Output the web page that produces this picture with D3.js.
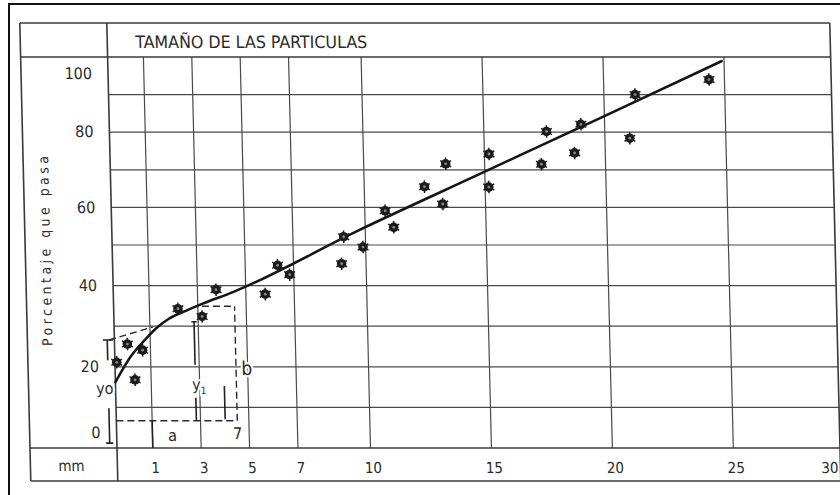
<!DOCTYPE html>
<html>
<head>
<meta charset="utf-8">
<script src="https://cdnjs.cloudflare.com/ajax/libs/d3/7.8.5/d3.min.js"></script>
<style>
  html, body { margin: 0; padding: 0; background: #fff; }
  svg { display: block; }
  text { font-family: "DejaVu Sans Condensed", "DejaVu Sans", sans-serif; fill: #2b2b2b; }
</style>
</head>
<body>
<svg id="chart" width="840" height="495"></svg>
<script>
// particle size (mm) and percent passing
const sizeMm = [0.05, 0.36, 0.78, 0.55, 2.18, 3.17, 3.77, 5.8, 6.34, 6.83, 8.99, 9.1, 9.89, 10.84,
  11.18, 12.49, 13.23, 13.39, 15.19, 15.15, 17.35, 17.59, 18.73, 19.02, 21.03, 21.29, 24.36];
const pctPass = [21.1, 25.6, 24.1, 16.8, 34.3, 32.4, 39.0, 37.9, 45.0, 42.7, 45.4, 52.2, 49.5, 59.1,
  54.7, 65.5, 60.9, 71.6, 74.2, 65.4, 71.5, 80.2, 74.5, 82.1, 78.4, 90.0, 94.0];

// hand drawn fit
const curveMm = [0, 0.46, 0.88, 1.26, 1.81, 2.5, 3.18, 4.47, 9.66, 15, 20, 24.9];
const curvePct = [16.2, 22.7, 26.9, 29.5, 31.9, 33.8, 35.5, 38.4, 53.7, 69.5, 84.3, 98.9];

const xTicks = [1, 3, 5, 7, 10, 15, 20, 25, 30];
const yTicks = [0, 20, 40, 60, 80, 100];
const yGrid = [10, 20, 30, 40, 50, 60, 70, 80, 90];

// construction marks for yo, y1, a, b  ([x1, y1, x2, y2] in mm / %)
const dashedGuides = [
  [-0.15, 26.6, 1.12, 29.8],
  [0, 6.7, 4.52, 6.7],
  [4.52, 6.7, 4.52, 34.9],
  [3.17, 34.9, 4.52, 34.9]
];
const solidGuides = [
  [-0.2, 26.6, -0.2, 21.6],
  [-0.2, 9.8, -0.2, 1.2],
  [-0.32, 26.6, -0.04, 26.6],
  [-0.3, 1.2, -0.1, 1.2],
  [2.83, 31.1, 2.83, 20.5],
  [2.83, 12.4, 2.83, 6.7],
  [2.72, 31.1, 2.94, 31.1],
  [4.02, 15.3, 4.02, 7.1],
  [1, 6.7, 1, 0]
];
const guideText = ['yo', 'y', 'a', 'b', '7'];
const guideMm = [-0.06, 2.98, 1.83, 4.96, 4.52];
const guidePct = [14.7, 15.6, 3.1, 19.7, 3.6];

const svg = d3.select('#chart');

// border of the scanned page
svg.append('path')
  .attr('d', 'M9,495V4H840')
  .attr('fill', 'none')
  .attr('stroke', '#111')
  .attr('stroke-width', 2);

const frame = { left: 30, right: 840, top: 23, bottom: 481 };

const x = d3.scaleLinear().domain([0, 1, 25, 30]).range([117, 152.8, 733.3, 827]);
const y = d3.scaleLinear().domain([0, 50, 100]).range([448, 245, 57]);

// the sheet was scanned a little sheared
const skew = 0.024;
const g = svg.append('g')
  .attr('transform', `translate(${-skew * y(0)},0) skewX(${Math.atan(skew) * 180 / Math.PI})`);

const ink = '#3a3a3a';

// grid
g.append('g')
  .selectAll('line')
  .data(yGrid)
  .enter()
  .append('line')
  .attr('x1', x(0))
  .attr('x2', frame.right)
  .attr('y1', d => y(d))
  .attr('y2', d => y(d))
  .attr('stroke', '#4a4a4a')
  .attr('stroke-width', 1.2);

g.append('g')
  .selectAll('line')
  .data(xTicks.filter(d => d < 30))
  .enter()
  .append('line')
  .attr('x1', d => x(d))
  .attr('x2', d => x(d))
  .attr('y1', y(100))
  .attr('y2', y(0))
  .attr('stroke', '#4a4a4a')
  .attr('stroke-width', 1.2);

// table frame
const frameLines = [
  [frame.left, frame.top, frame.right, frame.top],
  [frame.left, frame.bottom, frame.right, frame.bottom],
  [frame.left, frame.top, frame.left, frame.bottom],
  [frame.right, frame.top, frame.right, frame.bottom],
  [x(0), frame.top, x(0), frame.bottom],
  [frame.left, y(100), frame.right, y(100)],
  [frame.left, y(0), frame.right, y(0)]
];
g.append('g')
  .selectAll('line')
  .data(frameLines)
  .enter()
  .append('line')
  .attr('x1', d => d[0])
  .attr('y1', d => d[1])
  .attr('x2', d => d[2])
  .attr('y2', d => d[3])
  .attr('stroke', ink)
  .attr('stroke-width', 1.6);

// title and labels
g.append('text')
  .attr('x', x(0) + 28)
  .attr('y', (frame.top + y(100)) / 2 + 2)
  .attr('dominant-baseline', 'central')
  .attr('font-size', 17)
  .attr('textLength', 232)
  .attr('lengthAdjust', 'spacingAndGlyphs')
  .text('TAMAÑO DE LAS PARTICULAS');

g.append('text')
  .attr('transform', `translate(50,${y(50) + 6}) rotate(-90)`)
  .attr('text-anchor', 'middle')
  .attr('dominant-baseline', 'central')
  .attr('font-size', 14)
  .attr('textLength', 190)
  .attr('lengthAdjust', 'spacing')
  .text('Porcentaje que pasa');

g.append('text')
  .attr('x', 71)
  .attr('y', (y(0) + frame.bottom) / 2 + 2)
  .attr('text-anchor', 'middle')
  .attr('dominant-baseline', 'central')
  .attr('font-size', 15)
  .text('mm');

// axes
const xAxis = g.append('g')
  .attr('transform', `translate(2,${y(0)})`)
  .call(d3.axisBottom(x).tickValues(xTicks).tickSize(0).tickPadding(14))
  .attr('font-size', 15)
  .attr('font-family', null);
xAxis.select('.domain').remove();

const yAxis = g.append('g')
  .attr('transform', `translate(${x(0)},0)`)
  .call(d3.axisLeft(y).tickValues(yTicks).tickSize(0).tickPadding(16))
  .attr('font-size', 16)
  .attr('font-family', null);
yAxis.select('.domain').remove();
yAxis.selectAll('.tick')
  .attr('transform', d => `translate(0,${Math.min(Math.max(y(d), y(100) + 17), y(0) - 15)})`);

// construction marks
g.append('g')
  .selectAll('line')
  .data(dashedGuides)
  .enter()
  .append('line')
  .attr('x1', d => x(d[0]))
  .attr('y1', d => y(d[1]))
  .attr('x2', d => x(d[2]))
  .attr('y2', d => y(d[3]))
  .attr('stroke', '#2a2a2a')
  .attr('stroke-width', 1.4)
  .attr('stroke-dasharray', '7,4');

g.append('g')
  .selectAll('line')
  .data(solidGuides)
  .enter()
  .append('line')
  .attr('x1', d => x(d[0]))
  .attr('y1', d => y(d[1]))
  .attr('x2', d => x(d[2]))
  .attr('y2', d => y(d[3]))
  .attr('stroke', '#222')
  .attr('stroke-width', 1.6);

const labels = g.append('g')
  .selectAll('text')
  .data(guideText)
  .enter()
  .append('text')
  .attr('x', (d, i) => x(guideMm[i]))
  .attr('y', (d, i) => y(guidePct[i]))
  .attr('text-anchor', (d, i) => (i === 0 ? 'end' : 'middle'))
  .attr('dominant-baseline', 'central')
  .attr('font-size', d => (d === 'b' ? 19 : 16))
  .style('stroke', '#fff')
  .style('stroke-width', 4)
  .style('paint-order', 'stroke')
  .text(d => d);
labels.filter(d => d === 'y')
  .append('tspan')
  .attr('font-size', 10)
  .attr('dy', 5)
  .text('1');

// fitted curve
const line = d3.line()
  .x(d => x(d[0]))
  .y(d => y(d[1]))
  .curve(d3.curveMonotoneX);

g.append('path')
  .datum(curveMm.map((d, i) => [d, curvePct[i]]))
  .attr('d', line)
  .attr('fill', 'none')
  .attr('stroke', '#151515')
  .attr('stroke-width', 2.5)
  .attr('stroke-linecap', 'round');

// samples
const star = d3.symbol().type(d3.symbolAsterisk).size(110)();
const dots = g.append('g')
  .selectAll('g')
  .data(sizeMm.map((d, i) => [d, pctPass[i]]))
  .enter()
  .append('g')
  .attr('transform', d => `translate(${x(d[0])},${y(d[1])})`);
dots.append('circle')
  .attr('r', 4.8)
  .attr('fill', '#1c1c1c');
dots.append('path')
  .attr('d', star)
  .attr('stroke', '#1c1c1c')
  .attr('stroke-width', 1.5);
dots.append('circle')
  .attr('r', 1.4)
  .attr('fill', '#8a8a8a');
</script>
</body>
</html>
